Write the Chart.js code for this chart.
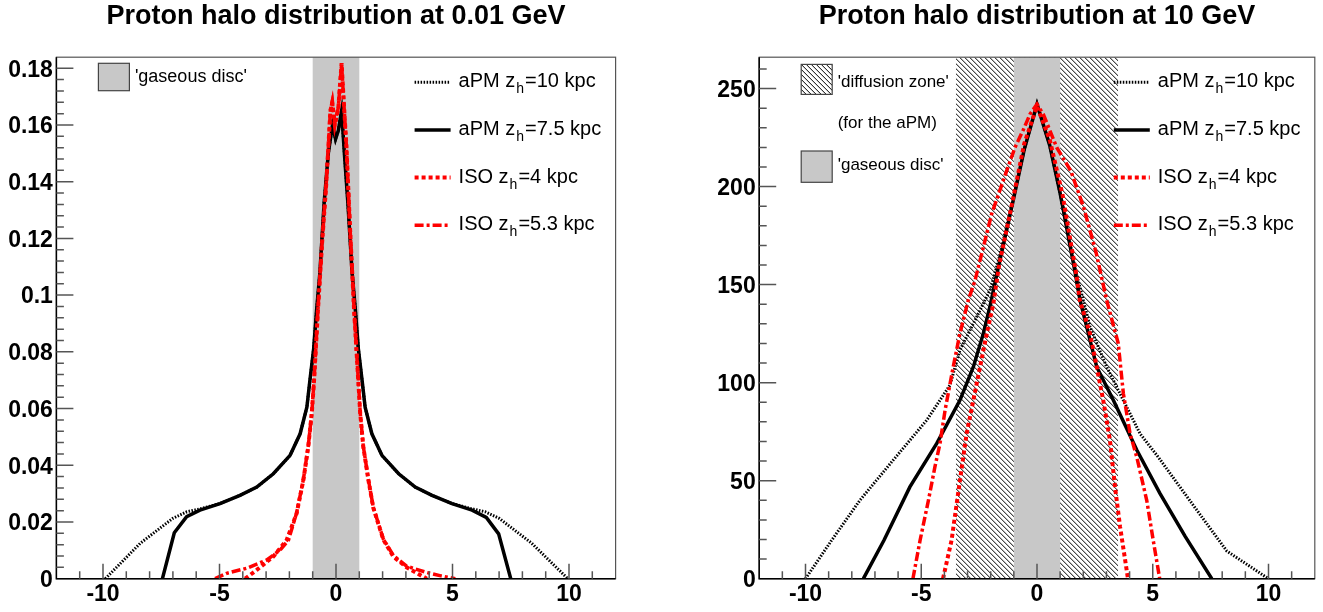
<html>
	<head>
		<meta charset="utf-8">
		<script src="https://cdn.jsdelivr.net/npm/chart.js"></script>
		<style>
			body { margin: 0; background: #fff; }
			.panel { position: absolute; top: 0; height: 612px; }
		</style>
	</head>
	<body>
		<div class="panel" style="left:0;width:661px"><canvas id="lowE"></canvas></div>
		<div class="panel" style="left:661px;width:662px"><canvas id="highE"></canvas></div>

		<script>
			// Shared axis data
			const xTicks = [-10, -5, 0, 5, 10];
			const seriesNames = ['aPM z_h=10 kpc', 'aPM z_h=7.5 kpc', 'ISO z_h=4 kpc', 'ISO z_h=5.3 kpc'];
			const discZone = [-1, 1];
			const diffusionZone = [-3.5, 3.5];

			// Panel 1: 0.01 GeV
			const lowYTicks = [0, 0.02, 0.04, 0.06, 0.08, 0.1, 0.12, 0.14, 0.16, 0.18];
			const lowApm10X = [-9.9, -8.4, -7.0, -6.4, -5.8, -4.98, -4.12, -3.4, -2.69, -1.97, -1.54, -1.25, -1.12, -0.96, -0.83, -0.69, -0.51, -0.33, -0.15, -0.02, 0.1, 0.24, 0.36, 0.51, 0.69, 0.83, 0.96, 1.12, 1.25, 1.54, 1.97, 2.69, 3.4, 4.12, 4.98, 5.8, 6.4, 7.0, 8.4, 9.95];
			const lowApm10Y = [0, 0.0125, 0.0213, 0.0236, 0.0247, 0.0265, 0.0294, 0.0323, 0.037, 0.0435, 0.0511, 0.0605, 0.0699, 0.081, 0.095, 0.108, 0.1325, 0.150, 0.160, 0.155, 0.158, 0.165, 0.150, 0.1325, 0.108, 0.095, 0.081, 0.0699, 0.0605, 0.0511, 0.0435, 0.037, 0.0323, 0.0294, 0.0265, 0.0247, 0.0236, 0.0213, 0.0125, 0];
			const lowApm75X = [-7.45, -6.94, -6.41, -5.84, -4.98, -4.12, -3.4, -2.69, -1.97, -1.54, -1.25, -1.12, -0.96, -0.83, -0.69, -0.51, -0.33, -0.15, -0.02, 0.1, 0.24, 0.36, 0.51, 0.69, 0.83, 0.96, 1.12, 1.25, 1.54, 1.97, 2.69, 3.4, 4.12, 4.98, 5.84, 6.45, 6.98, 7.5];
			const lowApm75Y = [0, 0.0162, 0.0219, 0.0242, 0.0265, 0.0294, 0.0323, 0.037, 0.0435, 0.0511, 0.0605, 0.0699, 0.081, 0.095, 0.108, 0.1325, 0.150, 0.160, 0.155, 0.158, 0.165, 0.150, 0.1325, 0.108, 0.095, 0.081, 0.0699, 0.0605, 0.0511, 0.0435, 0.037, 0.0323, 0.0294, 0.0265, 0.0242, 0.0216, 0.0158, 0];
			const lowIso4X = [-3.9, -3.4, -2.69, -2.12, -1.69, -1.4, -1.19, -1.04, -0.94, -0.78, -0.6, -0.42, -0.24, -0.16, -0.05, 0.1, 0.24, 0.32, 0.45, 0.6, 0.78, 0.94, 1.04, 1.17, 1.39, 1.6, 2.03, 2.46, 3.03, 3.9];
			const lowIso4Y = [0, 0.0031, 0.0078, 0.0136, 0.023, 0.0348, 0.0466, 0.0583, 0.070, 0.094, 0.118, 0.139, 0.165, 0.168, 0.160, 0.166, 0.1818, 0.170, 0.152, 0.124, 0.094, 0.072, 0.0583, 0.0466, 0.0348, 0.025, 0.0138, 0.0078, 0.004, 0];
			const lowIso53X = [-5.19, -4.69, -3.83, -2.97, -2.4, -2.04, -1.69, -1.4, -1.19, -1.04, -0.94, -0.78, -0.6, -0.42, -0.24, -0.16, -0.05, 0.1, 0.24, 0.32, 0.45, 0.6, 0.78, 0.94, 1.04, 1.17, 1.39, 1.6, 2.03, 2.46, 3.03, 3.89, 4.5, 5.12];
			const lowIso53Y = [0, 0.0019, 0.0037, 0.0066, 0.0101, 0.0136, 0.0232, 0.035, 0.0468, 0.0585, 0.0702, 0.0942, 0.1182, 0.1392, 0.1652, 0.1682, 0.1602, 0.1662, 0.1815, 0.1702, 0.1522, 0.1242, 0.0942, 0.0722, 0.0585, 0.0468, 0.035, 0.0252, 0.014, 0.0082, 0.0044, 0.0022, 0.001, 0];

			// Panel 2: 10 GeV
			const highYTicks = [0, 50, 100, 150, 200, 250];
			const highApm10X = [-10, -8.87, -7.65, -6.21, -4.76, -3.76, -3.33, -2.6, -2.0, -1.65, -1.1, -0.55, 0, 0.55, 1.0, 1.65, 2.0, 2.29, 3.01, 3.73, 4.45, 5.24, 6.58, 8.2, 10];
			const highApm10Y = [0, 19.6, 40, 60.5, 80.9, 98.7, 116.6, 133.6, 148, 163, 190, 219, 242, 221, 196.5, 158, 142, 128.5, 108, 91, 74, 62, 40.2, 14.1, 0];
			const highApm75X = [-7.5, -6.61, -5.49, -4.33, -3.33, -2.75, -2.32, -2.03, -1.65, -1.1, -0.55, 0, 0.55, 1.0, 1.65, 1.86, 2.22, 2.58, 3.3, 4.31, 5.31, 6.4, 7.55];
			const highApm75Y = [0, 19.6, 46.8, 69, 91, 108, 125, 139, 160, 189, 219, 242, 221, 196.5, 156, 142, 125, 108, 91, 65.6, 43.5, 21.6, 0];
			const highIso4X = [-4.06, -3.69, -3.33, -3.04, -2.75, -2.46, -2.17, -1.89, -1.65, -1.1, -0.55, 0, 0.55, 1.1, 1.7, 1.85, 2.29, 2.58, 2.86, 3.15, 3.37, 3.59, 3.93];
			const highIso4Y = [0, 19.6, 50, 74, 91, 108, 125, 140, 159, 190, 222, 241, 224, 196, 155, 142, 125, 108, 91, 70.7, 46.8, 26.4, 0];
			const highIso53X = [-5.36, -5.05, -4.69, -4.41, -4.19, -3.97, -3.62, -3.33, -2.97, -2.68, -2.32, -1.96, -1.46, -0.95, -0.59, -0.3, 0, 0.27, 0.85, 1.46, 2.0, 2.56, 3.01, 3.51, 3.73, 4.02, 4.31, 4.74, 5.02, 5.3];
			const highIso53Y = [0, 19.6, 40, 57, 69, 86, 108, 125, 142, 152, 169, 186, 203, 220, 229, 237, 242, 237, 220, 208, 190, 166, 142, 120, 94.5, 74, 62, 40, 19.6, 0];

			// Styles
			const FONT = '"Liberation Sans", Arial, Helvetica, sans-serif';
			const lineStyles = [
				{ color: '#000', width: 3, dash: [1.5, 1.5] },
				{ color: '#000', width: 3.5, dash: [] },
				{ color: '#f00', width: 4, dash: [4, 3] },
				{ color: '#f00', width: 3.5, dash: [9, 3, 3, 3] }
			];
			Chart.defaults.font.family = FONT;

			const makeDatasets = (xs, ys) => xs.map((xv, i) => ({
				label: seriesNames[i],
				data: xv.map((x, j) => ({ x: x, y: ys[i][j] })),
				borderColor: lineStyles[i].color,
				borderWidth: lineStyles[i].width,
				borderDash: lineStyles[i].dash,
				pointRadius: 0,
				tension: 0,
				fill: false,
				order: 4 - i
			}));

			const hatchRect = (ctx, l, t, w, h, step) => {
				ctx.save();
				ctx.beginPath();
				ctx.rect(l, t, w, h);
				ctx.clip();
				ctx.strokeStyle = '#000';
				ctx.lineWidth = 1;
				ctx.beginPath();
				for (let s = l - h; s < l + w; s += step) {
					ctx.moveTo(s, t);
					ctx.lineTo(s + h, t + h);
				}
				ctx.stroke();
				ctx.restore();
			};

			const drawSubLabel = (ctx, text, x, y) => {
				const parts = text.split('_h');
				ctx.font = '20px ' + FONT;
				ctx.fillText(parts[0], x, y);
				let w = ctx.measureText(parts[0]).width + 1;
				ctx.font = '14px ' + FONT;
				ctx.fillText('h', x + w, y + 6);
				w += ctx.measureText('h').width + 1;
				ctx.font = '20px ' + FONT;
				ctx.fillText(parts[1], x + w, y);
			};

			// ROOT-like frame, inner ticks, bands and legends
			const rootFrame = {
				id: 'rootFrame',
				beforeDatasetsDraw(chart, args, opts) {
					const { ctx, chartArea: a, scales: { x } } = chart;
					if (opts.hatch) {
						const l = x.getPixelForValue(diffusionZone[0]);
						const r = x.getPixelForValue(diffusionZone[1]);
						hatchRect(ctx, l, a.top, r - l, a.bottom - a.top, 5);
					}
					const dl = x.getPixelForValue(discZone[0]);
					const dr = x.getPixelForValue(discZone[1]);
					ctx.save();
					ctx.fillStyle = '#c8c8c8';
					ctx.fillRect(dl, a.top, dr - dl, a.bottom - a.top);
					ctx.restore();
				},
				afterDraw(chart, args, opts) {
					const { ctx, chartArea: a, scales: { x, y } } = chart;
					ctx.save();
					// frame
					ctx.strokeStyle = '#555';
					ctx.lineWidth = 1.2;
					ctx.strokeRect(a.left, a.top, a.right - a.left, a.bottom - a.top);
					ctx.strokeStyle = '#000';
					ctx.lineWidth = 1.5;
					ctx.beginPath();
					ctx.moveTo(a.left, a.top);
					ctx.lineTo(a.left, a.bottom);
					ctx.lineTo(a.right, a.bottom);
					ctx.stroke();
					// inner ticks
					ctx.strokeStyle = '#555';
					ctx.lineWidth = 1.5;
					ctx.beginPath();
					for (let k = -11; k <= 11; k++) {
						const px = x.getPixelForValue(k);
						const len = k % 5 === 0 ? 15 : 7.5;
						ctx.moveTo(px, a.bottom);
						ctx.lineTo(px, a.bottom - len);
					}
					const n = Math.floor(opts.yMax / opts.yMinor + 1e-6);
					for (let k = 1; k <= n; k++) {
						const py = y.getPixelForValue(k * opts.yMinor);
						const len = k % 5 === 0 ? 17 : 7.5;
						ctx.moveTo(a.left, py);
						ctx.lineTo(a.left + len, py);
					}
					ctx.stroke();

					// legend boxes on the left
					ctx.textBaseline = 'alphabetic';
					const bx = a.left + 42;
					opts.boxes.forEach(b => {
						if (b.kind === 'disc') {
							ctx.fillStyle = '#c8c8c8';
							ctx.fillRect(bx, b.top, 31, b.h);
						} else if (b.kind === 'hatch') {
							hatchRect(ctx, bx, b.top, 31, b.h, 5);
						}
						if (b.kind) {
							ctx.strokeStyle = '#444';
							ctx.lineWidth = 1.2;
							ctx.setLineDash([]);
							ctx.strokeRect(bx, b.top, 31, b.h);
						}
						ctx.fillStyle = '#000';
						ctx.font = b.size + 'px ' + FONT;
						ctx.fillText(b.text, bx + 36.5, b.base);
					});

					// series legend on the right
					const sx = a.right - 201;
					const tx = a.right - 157;
					const bases = [87.3, 135, 182.6, 230.2];
					chart.data.datasets.forEach((ds, i) => {
						ctx.strokeStyle = ds.borderColor;
						ctx.lineWidth = ds.borderWidth;
						ctx.setLineDash(ds.borderDash);
						ctx.beginPath();
						ctx.moveTo(sx, bases[i] - 5);
						ctx.lineTo(sx + 36, bases[i] - 5);
						ctx.stroke();
						ctx.setLineDash([]);
						ctx.fillStyle = '#000';
						drawSubLabel(ctx, ds.label, tx, bases[i]);
					});
					ctx.restore();
				}
			};

			const makeChart = (id, cfg) => new Chart(document.getElementById(id), {
				type: 'line',
				data: { datasets: makeDatasets(cfg.xs, cfg.ys) },
				plugins: [rootFrame],
				options: {
					responsive: true,
					maintainAspectRatio: false,
					animation: false,
					layout: { padding: { left: 0, right: cfg.padRight, top: 0, bottom: 0 } },
					plugins: {
						legend: { display: false },
						tooltip: { enabled: false },
						title: {
							display: true,
							text: cfg.title,
							fullSize: false,
							color: '#000',
							font: { size: 27, weight: 'bold' },
							padding: { top: 0.5, bottom: 24.3 }
						},
						rootFrame: { hatch: cfg.hatch, yMax: cfg.yMax, yMinor: cfg.yMinor, boxes: cfg.boxes }
					},
					scales: {
						x: {
							type: 'linear',
							min: -12,
							max: 12,
							afterBuildTicks: s => { s.ticks = xTicks.map(v => ({ value: v })); },
							afterFit: s => { s.height = 33.3; },
							grid: { display: false, drawTicks: false },
							border: { display: false },
							ticks: { color: '#000', font: { size: 23, weight: 'bold' }, padding: 2.5, maxRotation: 0, autoSkip: false }
						},
						y: {
							type: 'linear',
							min: 0,
							max: cfg.yMax,
							afterBuildTicks: s => { s.ticks = cfg.yTicks.map(v => ({ value: v })); },
							afterFit: s => { s.width = cfg.yWidth; },
							grid: { display: false, drawTicks: false },
							border: { display: false },
							ticks: {
								color: '#000',
								font: { size: 23, weight: 'bold' },
								padding: 3.5,
								labelOffset: 2,
								autoSkip: false,
								callback: v => String(+v.toFixed(3))
							}
						}
					}
				}
			});

			makeChart('lowE', {
				title: 'Proton halo distribution at 0.01 GeV',
				xs: [lowApm10X, lowApm75X, lowIso4X, lowIso53X],
				ys: [lowApm10Y, lowApm75Y, lowIso4Y, lowIso53Y],
				yTicks: lowYTicks,
				yMax: 0.1839,
				yMinor: 0.004,
				yWidth: 56.4,
				padRight: 45.4,
				hatch: false,
				boxes: [
					{ kind: 'disc', top: 63.3, h: 27.4, text: "'gaseous disc'", size: 18, base: 82 }
				]
			});

			makeChart('highE', {
				title: 'Proton halo distribution at 10 GeV',
				xs: [highApm10X, highApm75X, highIso4X, highIso53X],
				ys: [highApm10Y, highApm75Y, highIso4Y, highIso53Y],
				yTicks: highYTicks,
				yMax: 266,
				yMinor: 10,
				yWidth: 98.2,
				padRight: 8.2,
				hatch: true,
				boxes: [
					{ kind: 'hatch', top: 64.4, h: 30, text: "'diffusion zone'", size: 17, base: 87.3 },
					{ kind: null, top: 0, h: 0, text: '(for the aPM)', size: 17, base: 127.7 },
					{ kind: 'disc', top: 151, h: 31.3, text: "'gaseous disc'", size: 17, base: 170 }
				]
			});
		</script>
	</body>
</html>
